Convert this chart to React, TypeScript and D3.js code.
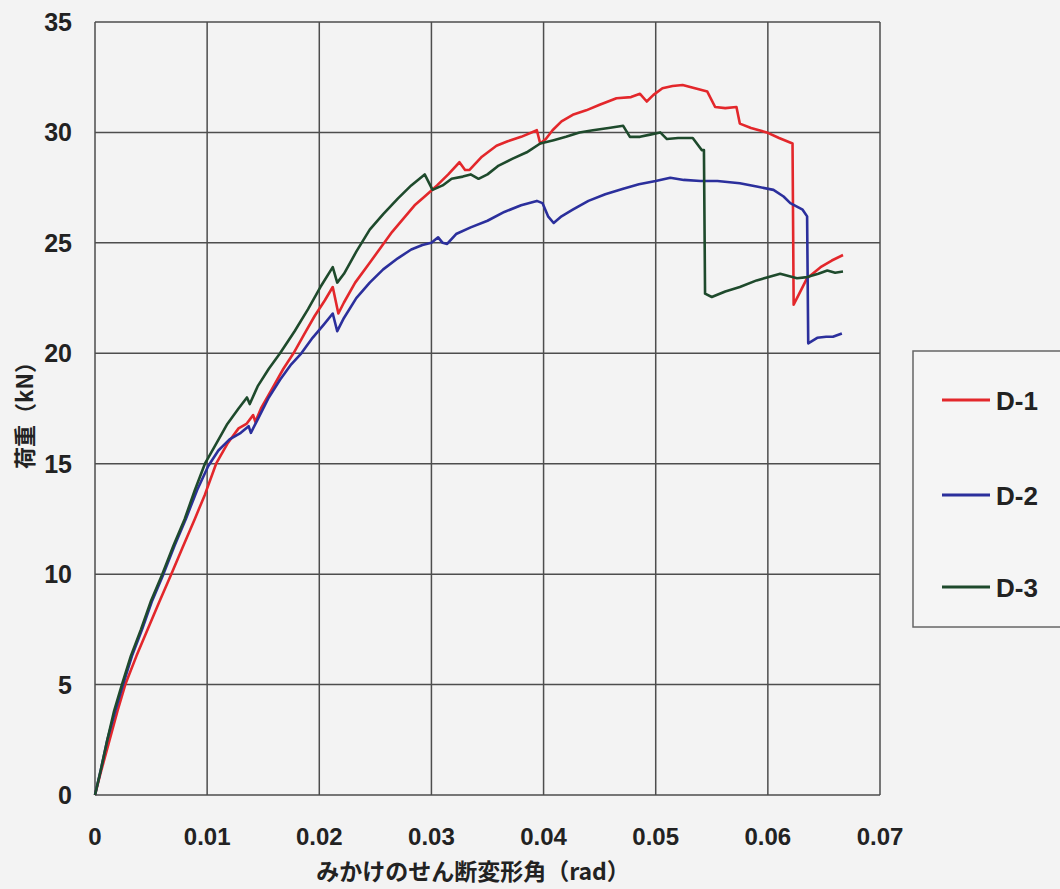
import React from "react";
import * as d3 from "d3";

const xTicks = [0, 0.01, 0.02, 0.03, 0.04, 0.05, 0.06, 0.07];
const yTicks = [0, 5, 10, 15, 20, 25, 30, 35];
const seriesNames = ["D-1", "D-2", "D-3"];
const seriesColors = ["#e3272b", "#2b2f9c", "#1e4a2c"];

const d1: [number, number][] = [
  [0, 0], [0.0005, 1.0], [0.0012, 2.3], [0.002, 3.8], [0.0027, 5.0], [0.0037, 6.3], [0.0047, 7.5],
  [0.0057, 8.7], [0.0068, 10.0], [0.0078, 11.2], [0.0089, 12.5], [0.0098, 13.6], [0.0108, 15.0],
  [0.0118, 15.9], [0.0128, 16.6], [0.0135, 16.8], [0.0141, 17.2], [0.0143, 16.9], [0.0148, 17.5],
  [0.0158, 18.4], [0.0168, 19.3], [0.0177, 20.0], [0.0187, 20.9], [0.0196, 21.7], [0.0205, 22.4],
  [0.0212, 23.0], [0.0217, 21.8], [0.0222, 22.3], [0.0232, 23.2], [0.0245, 24.1], [0.0255, 24.8],
  [0.0265, 25.5], [0.0275, 26.1], [0.0285, 26.7], [0.0294, 27.1], [0.0305, 27.6], [0.0315, 28.1],
  [0.0325, 28.65], [0.033, 28.3], [0.0334, 28.3], [0.0345, 28.9], [0.0358, 29.4], [0.0368, 29.6],
  [0.038, 29.8], [0.0394, 30.1], [0.0397, 29.5], [0.0402, 29.7], [0.0408, 30.1], [0.0416, 30.5],
  [0.0426, 30.8], [0.0438, 31.0], [0.045, 31.25], [0.0465, 31.55], [0.0478, 31.6], [0.0486, 31.75],
  [0.0492, 31.4], [0.0498, 31.7], [0.0506, 32.0], [0.0515, 32.1], [0.0524, 32.15], [0.0535, 32.0],
  [0.0546, 31.85], [0.0553, 31.15], [0.0562, 31.1], [0.0572, 31.15], [0.0575, 30.4], [0.0585, 30.2],
  [0.0599, 30.0], [0.061, 29.75], [0.0622, 29.5], [0.0623, 22.2], [0.0628, 22.7], [0.0635, 23.4],
  [0.0647, 23.9], [0.0657, 24.2], [0.0667, 24.45],
];

const d2: [number, number][] = [
  [0, 0], [0.0005, 1.1], [0.0011, 2.5], [0.0018, 3.8], [0.0025, 5.0], [0.0033, 6.3], [0.0042, 7.5],
  [0.0051, 8.8], [0.0061, 10.0], [0.0071, 11.3], [0.0081, 12.5], [0.0091, 13.8], [0.0101, 14.9],
  [0.011, 15.6], [0.012, 16.1], [0.013, 16.4], [0.0137, 16.7], [0.0139, 16.4], [0.0145, 17.0],
  [0.0155, 18.0], [0.0165, 18.8], [0.0175, 19.5], [0.0184, 20.0], [0.0194, 20.7], [0.0204, 21.3],
  [0.0212, 21.8], [0.0216, 21.0], [0.0222, 21.6], [0.0233, 22.5], [0.0245, 23.2], [0.0257, 23.8],
  [0.027, 24.3], [0.0282, 24.7], [0.0292, 24.9], [0.03, 25.0], [0.0306, 25.25], [0.031, 25.0],
  [0.0314, 24.95], [0.0322, 25.4], [0.0335, 25.7], [0.035, 26.0], [0.0365, 26.4], [0.038, 26.7],
  [0.0394, 26.9], [0.0399, 26.8], [0.0404, 26.2], [0.0409, 25.9], [0.0416, 26.2], [0.0426, 26.5],
  [0.044, 26.9], [0.0455, 27.2], [0.0471, 27.45], [0.0485, 27.65], [0.05, 27.8], [0.0513, 27.95],
  [0.0525, 27.85], [0.054, 27.8], [0.0555, 27.8], [0.0575, 27.7], [0.059, 27.55], [0.0605, 27.4],
  [0.0614, 27.1], [0.062, 26.8], [0.0631, 26.5], [0.0635, 26.2], [0.0636, 20.45], [0.0644, 20.7],
  [0.0652, 20.75], [0.0658, 20.75], [0.0666, 20.9],
];

const d3s: [number, number][] = [
  [0, 0], [0.0005, 1.1], [0.0011, 2.5], [0.0017, 3.8], [0.0024, 5.0], [0.0032, 6.3], [0.0041, 7.5],
  [0.005, 8.8], [0.006, 10.0], [0.007, 11.3], [0.008, 12.5], [0.0089, 13.8], [0.0098, 15.0],
  [0.0108, 15.9], [0.0118, 16.8], [0.0128, 17.5], [0.01355, 18.0], [0.0138, 17.7], [0.0145, 18.5],
  [0.0155, 19.3], [0.0165, 20.0], [0.0178, 21.0], [0.019, 22.0], [0.0201, 23.0], [0.0212, 23.9],
  [0.0216, 23.2], [0.0222, 23.6], [0.0233, 24.6], [0.0245, 25.6], [0.0257, 26.3], [0.027, 27.0],
  [0.0282, 27.6], [0.0294, 28.1], [0.0301, 27.4], [0.031, 27.6], [0.0318, 27.9], [0.0328, 28.0],
  [0.0335, 28.1], [0.0342, 27.9], [0.035, 28.1], [0.036, 28.5], [0.0372, 28.8], [0.0385, 29.1],
  [0.0397, 29.5], [0.0409, 29.65], [0.042, 29.8], [0.0432, 30.0], [0.0444, 30.1], [0.0458, 30.2],
  [0.0471, 30.3], [0.0477, 29.8], [0.0486, 29.8], [0.0495, 29.9], [0.0504, 30.0], [0.051, 29.7],
  [0.052, 29.75], [0.0533, 29.75], [0.0541, 29.2], [0.0543, 29.2], [0.0544, 22.7], [0.055, 22.55],
  [0.0562, 22.8], [0.0575, 23.0], [0.059, 23.3], [0.0611, 23.6], [0.0626, 23.4], [0.0635, 23.45],
  [0.0645, 23.6], [0.0653, 23.75], [0.066, 23.65], [0.0667, 23.7],
];

const seriesData = [d1, d2, d3s];

const W = 1060;
const H = 889;
const plot = { left: 95, right: 880, top: 22, bottom: 795 };

export default function App() {
  const x = d3.scaleLinear().domain([0, 0.07]).range([plot.left, plot.right]);
  const y = d3.scaleLinear().domain([0, 35]).range([plot.bottom, plot.top]);
  const line = d3
    .line<[number, number]>()
    .x((d) => x(d[0]))
    .y((d) => y(d[1]));
  const tickFont = "'Liberation Sans', Arial, sans-serif";
  const jpFont = "'Noto Sans CJK JP', 'Noto Sans', sans-serif";
  const gridColor = "#4d4d4d";
  const legendY = [400, 495, 587];

  return (
    <svg
      width={W}
      height={H}
      style={{ position: "absolute", left: 0, top: 0, display: "block" }}
    >
      <rect x={0} y={0} width={W} height={H} fill="#f3f3f3" />
      {/* grid */}
      {xTicks.map((t) => (
        <line
          key={"gx" + t}
          x1={x(t)}
          x2={x(t)}
          y1={plot.top}
          y2={plot.bottom}
          stroke={gridColor}
          strokeWidth={1.5}
        />
      ))}
      {yTicks.map((t) => (
        <line
          key={"gy" + t}
          x1={plot.left}
          x2={plot.right}
          y1={y(t)}
          y2={y(t)}
          stroke={gridColor}
          strokeWidth={1.5}
        />
      ))}
      {/* tick labels */}
      {yTicks.map((t) => (
        <text
          key={"ty" + t}
          x={72}
          y={y(t) + 9}
          textAnchor="end"
          fontFamily={tickFont}
          fontWeight="bold"
          fontSize={25}
          fill="#222"
        >
          {t}
        </text>
      ))}
      {xTicks.map((t) => (
        <text
          key={"tx" + t}
          x={x(t)}
          y={845}
          textAnchor="middle"
          fontFamily={tickFont}
          fontWeight="bold"
          fontSize={24}
          fill="#222"
        >
          {+t.toFixed(2)}
        </text>
      ))}
      {/* axis titles */}
      <text
        x={473}
        y={880}
        textAnchor="middle"
        fontFamily={jpFont}
        fontWeight="bold"
        fontSize={23}
        fill="#222"
      >
        みかけのせん断変形角（rad）
      </text>
      <text
        transform="translate(33,410) rotate(-90)"
        textAnchor="middle"
        fontFamily={jpFont}
        fontWeight="bold"
        fontSize={22}
        fill="#222"
      >
        荷重（kN）
      </text>
      {/* series */}
      {seriesData.map((s, i) => (
        <path
          key={seriesNames[i]}
          d={line(s) || ""}
          fill="none"
          stroke={seriesColors[i]}
          strokeWidth={2.6}
          strokeLinejoin="round"
        />
      ))}
      {/* legend */}
      <rect
        x={913}
        y={351}
        width={160}
        height={276}
        fill="#f5f5f5"
        stroke="#666"
        strokeWidth={1.5}
      />
      {seriesNames.map((n, i) => (
        <g key={"lg" + n}>
          <line
            x1={942}
            x2={990}
            y1={legendY[i]}
            y2={legendY[i]}
            stroke={seriesColors[i]}
            strokeWidth={3}
          />
          <text
            x={996}
            y={legendY[i] + 10}
            fontFamily={tickFont}
            fontWeight="bold"
            fontSize={26}
            fill="#222"
          >
            {n}
          </text>
        </g>
      ))}
    </svg>
  );
}
